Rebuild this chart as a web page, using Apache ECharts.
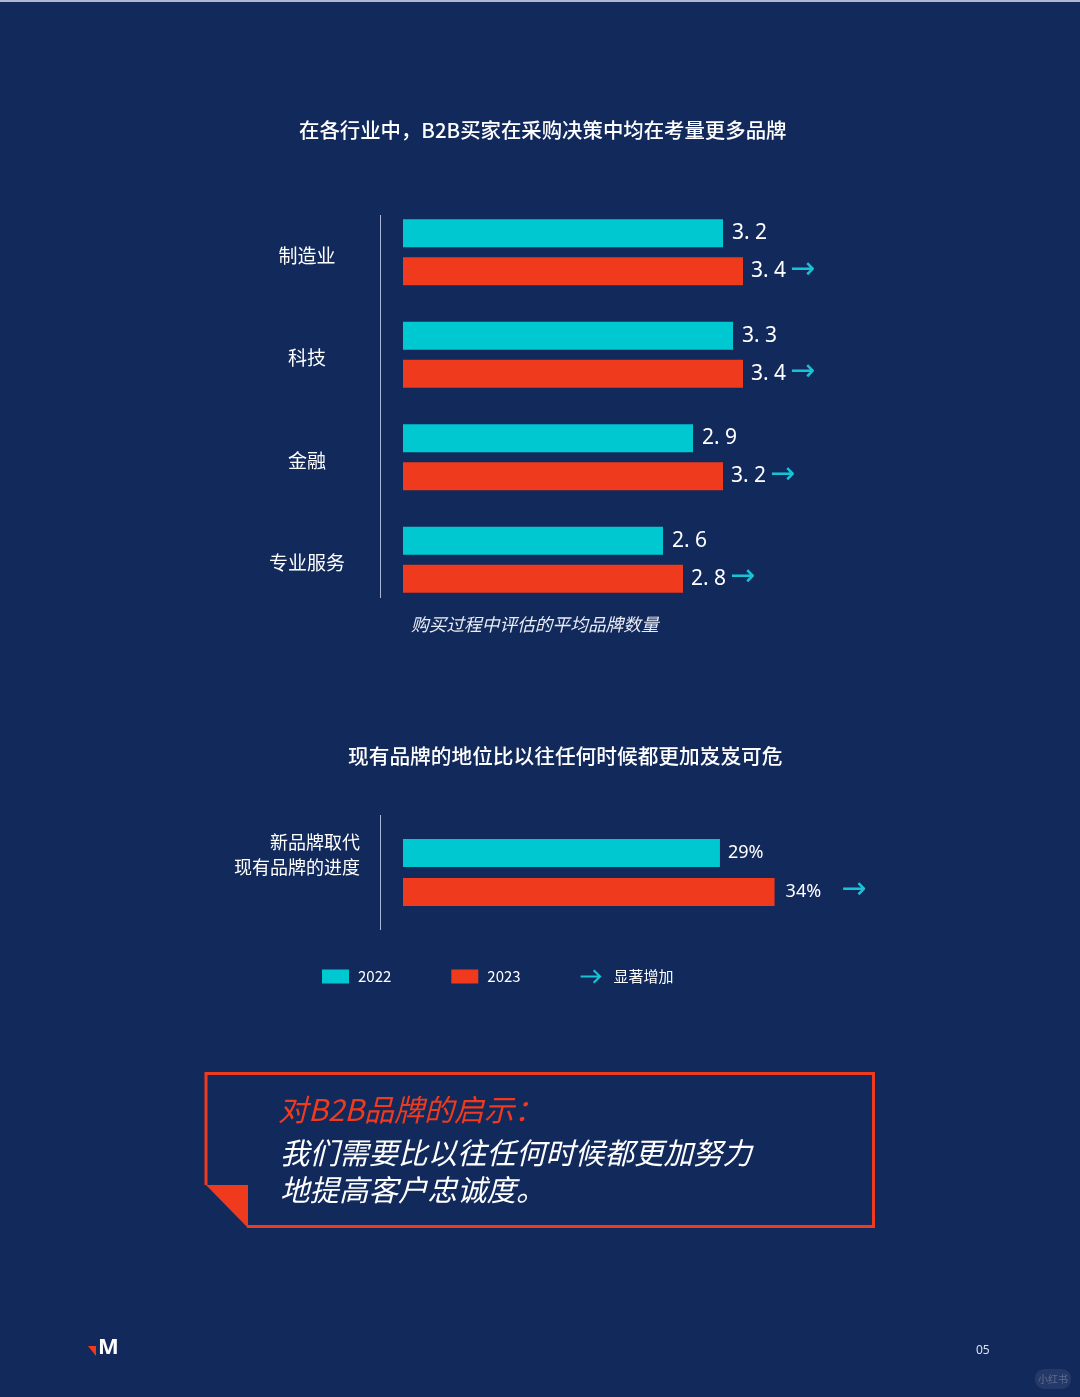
<!DOCTYPE html>
<html><head><meta charset="utf-8">
<script src="https://cdn.jsdelivr.net/npm/echarts@6/dist/echarts.min.js"></script>
<style>html,body{margin:0;padding:0;background:#12295c}#c{width:1080px;height:1397px}</style>
</head><body><div id="c"></div>
<script>
// ---- data ----
const industries = ['制造业', '科技', '金融', '专业服务'];
const brands2022 = [3.2, 3.3, 2.9, 2.6];
const brands2023 = [3.4, 3.4, 3.2, 2.8];
const replaceCategory = ['新品牌取代\n现有品牌的进度'];
const replace2022 = [29];
const replace2023 = [34];
const seriesNames = ['2022', '2023', '显著增加'];
const titles = ['在各行业中，B2B买家在采购决策中均在考量更多品牌', '现有品牌的地位比以往任何时候都更加岌岌可危'];
const axisNote = '购买过程中评估的平均品牌数量';
const calloutHead = '对B2B品牌的启示：';
const calloutBody = ['我们需要比以往任何时候都更加努力', '地提高客户忠诚度。'];

const CYAN = '#00c8d0', RED = '#f03a1e', ARROW = '#19c3d6', BG = '#12295c';
const CJK = '"Noto Sans CJK SC", "Noto Sans", sans-serif';
const NUM = '"Noto Sans", "DejaVu Sans", sans-serif';

const chart = echarts.init(document.getElementById('c'), null, {renderer: 'canvas'});
const fmtDec = v => v.toFixed(1).replace('.', '. ');

const richNum = {
  v: {color: '#fff', fontSize: 21, fontFamily: NUM},
  p: {color: '#fff', fontSize: 18, fontFamily: NUM},
  a: {color: ARROW, fontSize: 30, fontFamily: '"DejaVu Sans", sans-serif', padding: [0, 0, 3, 4]},
  a2: {color: ARROW, fontSize: 30, fontFamily: '"DejaVu Sans", sans-serif', padding: [0, 0, 3, 20]}
};

const option = {
  backgroundColor: BG,
  animation: false,
  title: [
    {text: titles[0], left: 299, top: 120, padding: 0, textStyle: {color: '#fff', fontSize: 20.4, fontWeight: 500, fontFamily: CJK}},
    {text: titles[1], left: 348, top: 746, padding: 0, textStyle: {color: '#fff', fontSize: 20.7, fontWeight: 500, fontFamily: CJK}}
  ],
  legend: {
    left: 317, top: 964, itemWidth: 27, itemHeight: 14, itemGap: 60,
    textStyle: {color: '#fff', fontSize: 15, fontFamily: CJK, padding: [0, 0, 0, 4]},
    selectedMode: false,
    data: [
      {name: seriesNames[0], icon: 'rect'},
      {name: seriesNames[1], icon: 'rect'},
      {name: seriesNames[2], icon: 'path://M2 6 L22 6 L22 8 L2 8 Z M14.3 1.4 L15.8 0 L23 7 L15.8 14 L14.3 12.6 L20 7 Z'}
    ]
  },
  grid: [
    {left: 403, width: 400, top: 201, height: 410},
    {left: 403, width: 400, top: 820, height: 105}
  ],
  xAxis: [
    {gridIndex: 0, type: 'value', min: 0, max: 4, show: false},
    {gridIndex: 1, type: 'value', min: 0, max: 36.6, show: false}
  ],
  yAxis: [
    {gridIndex: 0, type: 'category', data: industries, inverse: true,
     axisLine: {show: false}, axisTick: {show: false},
     axisLabel: {align: 'center', margin: 96, color: '#fff', fontSize: 19, fontFamily: CJK,
       formatter: v => '{c|' + v + '}',
       rich: {c: {color: '#fff', fontSize: 19, fontFamily: CJK, padding: [7, 0, 0, 0]}}}},
    {gridIndex: 1, type: 'category', data: replaceCategory, inverse: true,
     axisLine: {show: false}, axisTick: {show: false},
     axisLabel: {align: 'right', margin: 43, color: '#fff', fontSize: 18, fontFamily: CJK,
       formatter: v => v.split('\n').map(s => '{t|' + s + '}').join('\n') + '\n{s| }',
       rich: {t: {color: '#fff', fontSize: 18, lineHeight: 25, fontFamily: CJK, align: 'right'},
              s: {fontSize: 10, lineHeight: 36}}}}
  ],
  series: [
    {name: seriesNames[0], type: 'bar', xAxisIndex: 0, yAxisIndex: 0, data: brands2022,
     barWidth: 28, barGap: '36%', itemStyle: {color: CYAN},
     label: {show: true, position: 'right', distance: 9, formatter: p => '{v|' + fmtDec(p.value) + '}', rich: richNum}},
    {name: seriesNames[1], type: 'bar', xAxisIndex: 0, yAxisIndex: 0, data: brands2023,
     barWidth: 28, barGap: '36%', itemStyle: {color: RED},
     label: {show: true, position: 'right', distance: 8, formatter: p => '{v|' + fmtDec(p.value) + '}{a|→}', rich: richNum}},
    {name: seriesNames[0], type: 'bar', xAxisIndex: 1, yAxisIndex: 1, data: replace2022,
     barWidth: 28, barGap: '40%', itemStyle: {color: CYAN},
     label: {show: true, position: 'right', distance: 8, formatter: p => '{p|' + p.value + '%}', rich: richNum}},
    {name: seriesNames[1], type: 'bar', xAxisIndex: 1, yAxisIndex: 1, data: replace2023,
     barWidth: 28, barGap: '40%', itemStyle: {color: RED},
     label: {show: true, position: 'right', distance: 11, formatter: p => '{p|' + p.value + '%}{a2|→}', rich: richNum}},
    {name: seriesNames[2], type: 'line', xAxisIndex: 0, yAxisIndex: 0, data: [],
     itemStyle: {color: ARROW}, lineStyle: {color: ARROW}}
  ],
  graphic: [
    {type: 'rect', shape: {x: 0, y: 0, width: 1080, height: 2}, style: {fill: '#aeb8cf'}},
    {type: 'line', shape: {x1: 380.5, y1: 215, x2: 380.5, y2: 598}, style: {stroke: '#aab6d2', lineWidth: 1}},
    {type: 'line', shape: {x1: 380.5, y1: 815, x2: 380.5, y2: 930}, style: {stroke: '#aab6d2', lineWidth: 1}},
    {type: 'text', left: 411, top: 615, style: {text: axisNote, fill: '#e8ecf4', fontSize: 17.7, fontStyle: 'italic', fontFamily: CJK}},
    // callout box
    {type: 'polyline', shape: {points: [[206, 1185], [206, 1073.5], [873.5, 1073.5], [873.5, 1226.5], [247, 1226.5]]},
     style: {stroke: RED, lineWidth: 3, fill: null}},
    {type: 'polygon', shape: {points: [[206, 1185], [248, 1185], [248, 1228]]}, style: {fill: RED}},
    {type: 'text', x: 278, y: 1110, style: {text: calloutHead, fill: RED, fontSize: 30, fontStyle: 'italic', fontFamily: CJK, verticalAlign: 'middle'}},
    {type: 'text', x: 280, y: 1153, style: {text: calloutBody[0], fill: '#fff', fontSize: 29.5, fontStyle: 'italic', fontFamily: CJK, verticalAlign: 'middle'}},
    {type: 'text', x: 280, y: 1190, style: {text: calloutBody[1], fill: '#fff', fontSize: 29.5, fontStyle: 'italic', fontFamily: CJK, verticalAlign: 'middle'}},
    // logo + page number
    {type: 'polygon', shape: {points: [[88, 1346], [96, 1346], [96, 1356]]}, style: {fill: RED}},
    {type: 'text', x: 98, y: 1348, style: {text: 'M', fill: '#fff', fontSize: 22, fontWeight: 'bold', fontFamily: NUM, verticalAlign: 'middle'}},
    {type: 'text', x: 976, y: 1351, style: {text: '05', fill: '#dde3ef', fontSize: 12, fontFamily: NUM, verticalAlign: 'middle'}},
    {type: 'rect', shape: {x: 1035, y: 1369, width: 36, height: 20, r: 9}, style: {fill: 'rgba(255,255,255,0.08)'}},
    {type: 'text', x: 1053, y: 1379, style: {text: '小红书', fill: 'rgba(255,255,255,0.25)', fontSize: 10, fontFamily: CJK, align: 'center', verticalAlign: 'middle'}}
  ]
};
chart.setOption(option);
</script></body></html>
